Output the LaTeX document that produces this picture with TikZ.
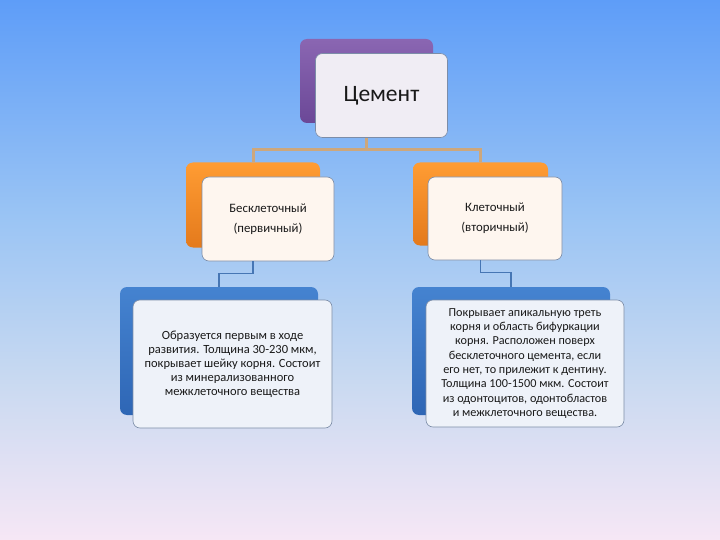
\documentclass[tikz,border=0pt]{standalone}
\usepackage{fontspec}
\setmainfont{Carlito}
\definecolor{bgtop}{HTML}{5E9DF8}
\definecolor{bgmidA}{HTML}{9AC4F4}
\definecolor{bgmidB}{HTML}{C8D9F1}
\definecolor{bgbot}{HTML}{F6E7F5}
\definecolor{purpA}{HTML}{8A66B2}
\definecolor{purpB}{HTML}{6B4897}
\definecolor{oraA}{HTML}{FF9C33}
\definecolor{oraB}{HTML}{E47A1C}
\definecolor{bluA}{HTML}{4583D0}
\definecolor{bluB}{HTML}{2E66B5}
\definecolor{frontP}{HTML}{F0EDF4}
\definecolor{frontO}{HTML}{FEF6EF}
\definecolor{frontB}{HTML}{EEF2F9}
\definecolor{cardline}{HTML}{7C8DA8}
\definecolor{tanline}{HTML}{CDA77C}
\definecolor{blueline}{HTML}{4676B4}
\pgfdeclareverticalshading{bgshade}{100bp}{color(0bp)=(bgbot); color(25bp)=(bgbot); color(40bp)=(bgmidB); color(55bp)=(bgmidA); color(75bp)=(bgtop); color(100bp)=(bgtop)}
\tikzset{
  backcard/.style={rectangle, rounded corners=7pt, inner sep=0pt},
  purpleback/.style={backcard, top color=purpA, bottom color=purpB},
  orangeback/.style={backcard, top color=oraA, bottom color=oraB},
  blueback/.style={backcard, top color=bluA, bottom color=bluB},
  frontcard/.style={rectangle, rounded corners=7pt, inner sep=0pt, draw=cardline, line width=0.6pt, align=center, text=black!90},
  tanconn/.style={draw=tanline, line width=3pt},
  blueconn/.style={draw=blueline, line width=1.5pt},
}
\begin{document}
\begin{tikzpicture}[x=1pt,y=-1pt]
\useasboundingbox (0,0) rectangle (720,540);
\shade[shading=bgshade] (0,0) rectangle (720,540);

% top card
\node[purpleback, minimum width=133pt, minimum height=84pt] (topback) at (366.5,81) {};
\node[frontcard, fill=frontP, minimum width=132pt, minimum height=84pt, font=\fontsize{23.5}{27}\selectfont] (topfront) at (381.5,95.5) {Цемент};

% orange cards
\node[orangeback, minimum width=134pt, minimum height=85pt] (lback) at (253,205) {};
\node[frontcard, fill=frontO, minimum width=132pt, minimum height=84pt, font=\fontsize{12.8}{20}\selectfont] (lfront) at (268,219) {Бесклеточный\\(первичный)};
\node[orangeback, minimum width=135pt, minimum height=83pt] (rback) at (480.5,204) {};
\node[frontcard, fill=frontO, minimum width=134pt, minimum height=83pt, font=\fontsize{12.8}{20}\selectfont] (rfront) at (495,218.5) {Клеточный\\(вторичный)};

% blue cards
\node[blueback, minimum width=198pt, minimum height=128pt] (lbback) at (219,351) {};
\node[frontcard, fill=frontB, minimum width=199pt, minimum height=128pt, font=\fontsize{12.5}{14}\selectfont] (lbfront) at (232.5,364) {Образуется первым в ходе\\развития. Толщина 30-230 мкм,\\покрывает шейку корня. Состоит\\из минерализованного\\межклеточного вещества};
\node[blueback, minimum width=198pt, minimum height=128pt] (rbback) at (511,351) {};
\node[frontcard, fill=frontB, minimum width=198pt, minimum height=127pt, font=\fontsize{12.2}{14.3}\selectfont] (rbfront) at (525,363.5) {Покрывает апикальную треть\\корня и область бифуркации\\корня. Расположен поверх\\бесклеточного цемента, если\\его нет, то прилежит к дентину.\\Толщина 100-1500 мкм. Состоит\\из одонтоцитов, одонтобластов\\и межклеточного вещества.};

% connectors
\coordinate (hub) at (366.5,150);
\draw[tanconn] (topfront.south -| topback.center) -- (hub);
\draw[tanconn] (hub) -| (lback.north);
\draw[tanconn] (hub) -| (rback.north);
\draw[blueconn] (lfront.south -| lback.center) -- ++(0,12) -| (lbback.north);
\draw[blueconn] (rfront.south -| rback.center) -- ++(0,12) -| (rbback.north);
\end{tikzpicture}
\end{document}
